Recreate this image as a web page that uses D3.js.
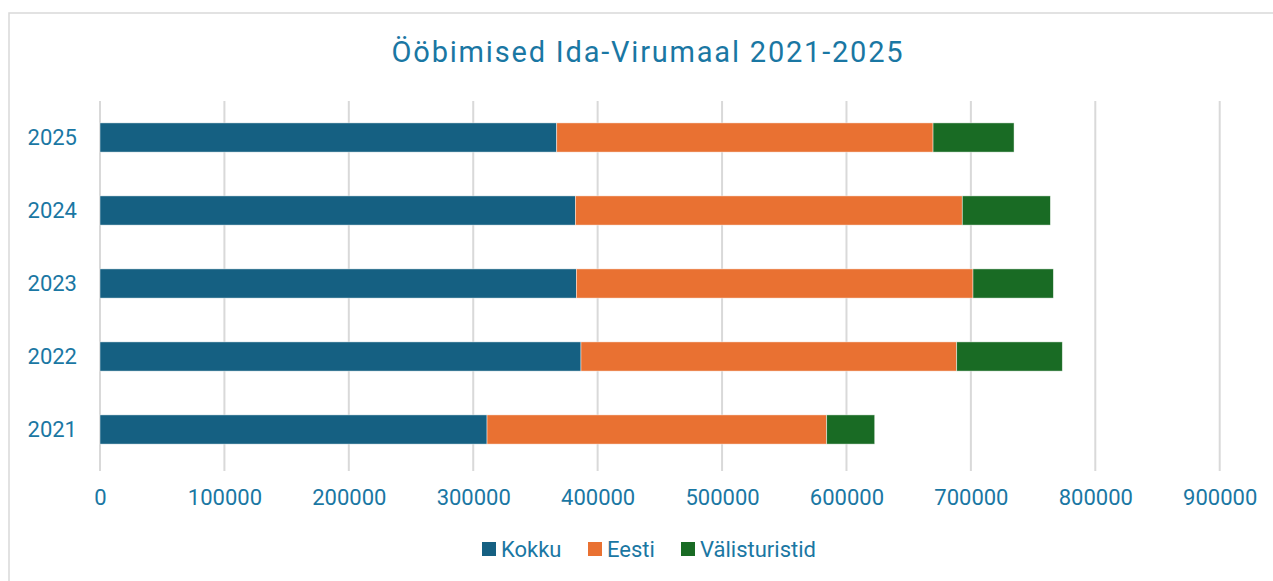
<!DOCTYPE html>
<html>
<head>
<meta charset="utf-8">
<script src="https://cdn.jsdelivr.net/npm/d3@7"></script>
<style>
  body { margin: 0; background: #fff; }
  svg { display: block; }
  text { font-family: Roboto, "Noto Sans", sans-serif; }
</style>
</head>
<body>
<svg id="drawing_region"></svg>
<script>
// data
const years = ["2021", "2022", "2023", "2024", "2025"];
const kokku = [311100, 386600, 382900, 382100, 367100];
const eesti = [273000, 302000, 318800, 311000, 302500];
const valis = [38600, 84900, 64600, 70800, 65100];
const seriesNames = ["Kokku", "Eesti", "Välisturistid"];
const xTicks = [0, 100000, 200000, 300000, 400000, 500000, 600000, 700000, 800000, 900000];

const colors = ["#156082", "#E97132", "#196B24"];
const textColor = "#1a77a3";

const W = 1273, H = 581;
const margin = {top: 101, right: 54, bottom: 115, left: 100};

const svg = d3.select("#drawing_region").attr("width", W).attr("height", H);

// chart frame
svg.append("rect")
  .attr("x", 9).attr("y", 13)
  .attr("width", W + 20).attr("height", H + 20)
  .attr("fill", "#fff").attr("stroke", "#d9d9d9").attr("stroke-width", 1.5);

svg.append("text")
  .attr("x", 648).attr("y", 62)
  .attr("text-anchor", "middle")
  .attr("font-size", "29px")
  .attr("letter-spacing", "1.8px")
  .attr("font-family", "'Open Sans', sans-serif")
  .attr("fill", textColor)
  .text("Ööbimised Ida-Virumaal 2021-2025");

const table = years.map((y, i) => ({year: y, Kokku: kokku[i], Eesti: eesti[i], "Välisturistid": valis[i]}));
const stacked = d3.stack().keys(seriesNames)(table);

const x = d3.scaleLinear().domain([0, 900000]).range([margin.left, margin.left + 1119.7]);
const y = d3.scaleBand().domain(years.slice().reverse()).range([margin.top, H - margin.bottom]).paddingInner(0.6).paddingOuter(0.3);

// gridlines
svg.append("g")
  .selectAll("line")
  .data(xTicks)
  .join("line")
  .attr("x1", d => x(d)).attr("x2", d => x(d))
  .attr("y1", margin.top).attr("y2", H - margin.bottom + 5)
  .attr("stroke", "#d9d9d9").attr("stroke-width", 2);

// x labels
const xAxis = svg.append("g")
  .attr("transform", `translate(0,${H - margin.bottom})`)
  .call(d3.axisBottom(x).tickValues(xTicks).tickFormat(d3.format("d")).tickSize(0).tickPadding(23));
xAxis.select(".domain").remove();
xAxis.selectAll("text").attr("font-size", "22px").attr("fill", textColor).attr("font-family", "Roboto, sans-serif");

// y labels
const yAxis = svg.append("g")
  .attr("transform", `translate(${margin.left},0)`)
  .call(d3.axisLeft(y).tickSize(0).tickPadding(23));
yAxis.select(".domain").remove();
yAxis.selectAll("text").attr("font-size", "22px").attr("fill", textColor).attr("font-family", "Roboto, sans-serif");

// bars
svg.append("g")
  .selectAll("g")
  .data(stacked)
  .join("g")
  .attr("fill", (d, i) => colors[i])
  .selectAll("rect")
  .data(d => d)
  .join("rect")
  .attr("x", d => x(d[0]))
  .attr("y", d => y(d.data.year))
  .attr("width", d => x(d[1]) - x(d[0]))
  .attr("height", y.bandwidth())
  .attr("stroke", "#fff").attr("stroke-opacity", 0.6).attr("stroke-width", 0.75);

// legend
const legendX = [482, 588, 681];
const legend = svg.append("g").selectAll("g")
  .data(seriesNames)
  .join("g")
  .attr("transform", (d, i) => `translate(${legendX[i]},549)`);
legend.append("rect")
  .attr("x", 0).attr("y", -7).attr("width", 14).attr("height", 14)
  .attr("fill", (d, i) => colors[i]);
legend.append("text")
  .attr("x", 19).attr("y", 0).attr("dy", "0.35em")
  .attr("font-size", "22px").attr("fill", textColor)
  .text(d => d);
</script>
</body>
</html>
